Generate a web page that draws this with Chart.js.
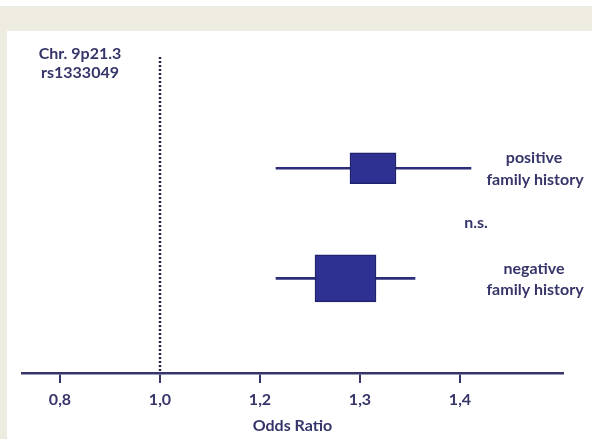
<!DOCTYPE html>
<html>
<head>
<meta charset="utf-8">
<script src="https://cdn.jsdelivr.net/npm/chart.js@4/dist/chart.umd.min.js"></script>
<style>
  html, body { margin: 0; padding: 0; background: #fff; }
  #wrap { position: relative; width: 592px; height: 439px; overflow: hidden; }
  .band { position: absolute; background: #eeebe0; }
  #top { left: 0; top: 6px; width: 592px; height: 25px; }
  #left { left: 0; top: 31px; width: 7px; height: 408px; }
  canvas { position: absolute; left: 0; top: 0; }
</style>
</head>
<body>
<div id="wrap">
  <div class="band" id="top"></div>
  <div class="band" id="left"></div>
  <canvas id="c" width="592" height="439"></canvas>
</div>
<script>
// data
const rowNames = ['positive family history', 'negative family history'];
const rowIndex = [1, 2];
const tickValues = [0.8, 1.0, 1.2, 1.3, 1.4];
const tickLabels = ['0,8', '1,0', '1,2', '1,3', '1,4'];
const oddsRatio = [1.313, 1.286];
const ciLower = [1.216, 1.216];
const ciUpper = [1.411, 1.355];
const boxLower = [1.290, 1.255];
const boxUpper = [1.336, 1.316];
const refValue = 1.0;

const NAVY = '#35356a';
const BOX = '#2e3192';
const FONT = 'Lato, "Open Sans", sans-serif';

// the printed axis is spaced evenly per tick, not per unit: map OR onto tick slots
function pos(v) {
  const t = tickValues;
  let i = 0;
  while (i < t.length - 2 && v > t[i + 1]) i++;
  return i + (v - t[i]) / (t[i + 1] - t[i]);
}

const whiskers = rowIndex.map((r, i) => ({ x: [pos(ciLower[i]), pos(ciUpper[i])], y: r }));
const boxPos = [{ x: [pos(boxLower[0]), pos(boxUpper[0])], y: rowIndex[0] }];
const boxNeg = [{ x: [pos(boxLower[1]), pos(boxUpper[1])], y: rowIndex[1] }];

const Y_MIN = -0.01, Y_MAX = 2.86;

const labelsPlugin = {
  id: 'labels',
  afterDraw(chart) {
    const ctx = chart.ctx, y = chart.scales.y;
    ctx.save();
    ctx.fillStyle = NAVY;
    ctx.font = 'bold 16px ' + FONT;
    ctx.textAlign = 'center';
    ctx.textBaseline = 'middle';
    ctx.fillText('Chr. 9p21.3', 80, 54);
    ctx.fillText('rs1333049', 80, 73);
    const y1 = y.getPixelForValue(rowIndex[0]);
    const y2 = y.getPixelForValue(rowIndex[1]);
    ctx.fillText('positive', 534, y1 - 10);
    ctx.fillText('family history', 535, y1 + 12);
    ctx.fillText('n.s.', 476, (y1 + y2) / 2);
    ctx.fillText('negative', 534, y2 - 9);
    ctx.fillText('family history', 535, y2 + 12);
    ctx.restore();
  }
};

new Chart(document.getElementById('c'), {
  type: 'bar',
  data: {
    datasets: [
      {
        type: 'line', label: 'OR = 1', order: 4,
        data: [{ x: pos(refValue), y: Y_MIN }, { x: pos(refValue), y: Y_MAX }],
        borderColor: '#26264f', borderWidth: 2.5, borderDash: [2, 2],
        pointRadius: 0, fill: false
      },
      {
        label: 'CI', indexAxis: 'y', grouped: false, data: whiskers, order: 3,
        backgroundColor: '#2b2d78', barThickness: 2, borderWidth: 0
      },
      {
        label: rowNames[0], indexAxis: 'y', grouped: false, data: boxPos, order: 1,
        backgroundColor: BOX, borderColor: '#20226e', borderWidth: 1.5, borderSkipped: false, barThickness: 31
      },
      {
        label: rowNames[1], indexAxis: 'y', grouped: false, data: boxNeg, order: 1,
        backgroundColor: BOX, borderColor: '#20226e', borderWidth: 1.5, borderSkipped: false, barThickness: 47
      }
    ]
  },
  options: {
    responsive: false,
    animation: false,
    layout: { padding: { left: 22, right: 29, top: 57, bottom: 4 } },
    plugins: { legend: { display: false }, tooltip: { enabled: false } },
    scales: {
      x: {
        type: 'linear', min: -0.38, max: 5.03, offset: false,
        afterBuildTicks: s => { s.ticks = tickValues.map((v, i) => ({ value: i })); },
        afterFit: s => { s.height = 62; },
        ticks: {
          autoSkip: false, maxRotation: 0, padding: 7,
          color: NAVY, font: { family: FONT, size: 16, weight: 'bold' },
          callback: v => tickLabels[v]
        },
        grid: { offset: false, drawOnChartArea: false, drawTicks: true, tickLength: 10, color: NAVY, lineWidth: 2 },
        border: { color: NAVY, width: 2.5 },
        title: {
          display: true, text: 'Odds Ratio', color: NAVY,
          font: { family: FONT, size: 16, weight: 'bold' }, padding: { top: 0, bottom: 0 }
        }
      },
      y: { type: 'linear', reverse: true, min: Y_MIN, max: Y_MAX, offset: false, display: false }
    }
  },
  plugins: [labelsPlugin]
});
</script>
</body>
</html>
